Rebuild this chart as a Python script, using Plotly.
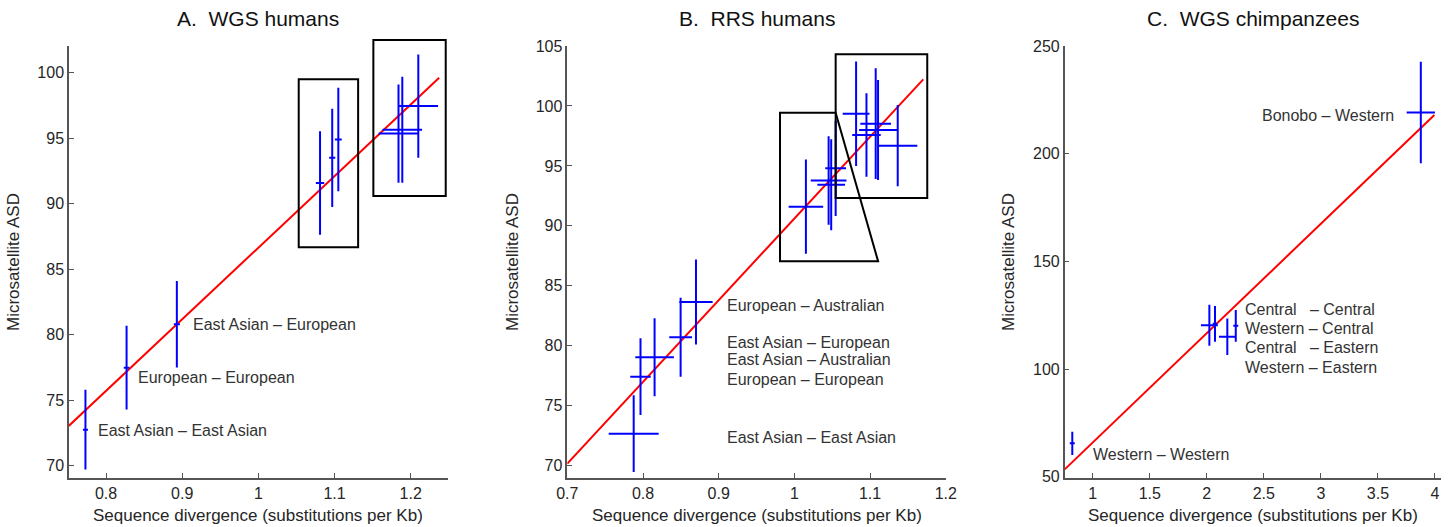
import plotly.graph_objects as go

# ---------------- Panel A: WGS humans ----------------
A_x = [0.773, 0.827, 0.893, 1.081, 1.097, 1.105, 1.184, 1.189, 1.210]
A_y = [72.75, 77.48, 80.80, 91.58, 93.50, 94.90, 95.35, 95.65, 97.45]
A_xerr = [0.0033, 0.0037, 0.004, 0.0055, 0.004, 0.0045, 0.026, 0.026, 0.026]
A_yerr = [3.05, 3.2, 3.3, 3.95, 3.75, 3.95, 3.75, 4.05, 3.95]
A_fit_x = [0.751, 1.2374]
A_fit_y = [73.03, 99.62]
A_labels = ["East Asian – East Asian", "European – European", "East Asian – European"]
A_label_x = [0.787, 0.839, 0.911]
A_label_y = [72.65, 76.75, 80.8]
A_box1_x = [1.053, 1.131, 1.131, 1.053, 1.053]
A_box1_y = [86.67, 86.67, 99.5, 99.5, 86.67]
A_box2_x = [1.151, 1.246, 1.246, 1.151, 1.151]
A_box2_y = [90.59, 90.59, 102.5, 102.5, 90.59]

# ---------------- Panel B: RRS humans ----------------
B_x = [0.7877, 0.7967, 0.8153, 0.8497, 0.8700, 1.0152, 1.0452, 1.0486, 1.0545,
       1.0815, 1.0952, 1.1074, 1.1105, 1.1365]
B_y = [72.67, 77.42, 79.05, 80.71, 83.65, 91.60, 93.78, 93.43, 94.80,
       99.35, 97.58, 98.52, 97.99, 96.69]
B_xerr = [0.033, 0.0135, 0.0255, 0.015, 0.022, 0.0228, 0.0236, 0.0183, 0.0137,
          0.0177, 0.0188, 0.0203, 0.025, 0.0259]
B_yerr = [3.2, 3.2, 3.25, 3.3, 3.55, 3.93, 3.69, 3.79, 3.97,
          4.35, 3.49, 4.62, 4.17, 3.38]
B_fit_x = [0.7, 1.1702]
B_fit_y = [70.17, 102.22]
B_labels = ["European – Australian", "East Asian – European", "East Asian – Australian",
            "European – European", "East Asian – East Asian"]
B_label_x = [0.908, 0.908, 0.908, 0.908, 0.908]
B_label_y = [83.4, 80.29, 78.87, 77.15, 72.37]
B_trap_x = [0.981, 1.0545, 1.1106, 0.981, 0.981]
B_trap_y = [99.44, 99.44, 87.04, 87.04, 99.44]
B_box_x = [1.0545, 1.1755, 1.1755, 1.0545, 1.0545]
B_box_y = [92.32, 92.32, 104.31, 104.31, 92.32]

# ---------------- Panel C: WGS chimpanzees ----------------
C_x = [0.821, 2.0225, 2.072, 2.180, 2.254, 3.876]
C_y = [65.5, 120.3, 121.0, 115.0, 120.05, 219.1]
C_xerr = [0.022, 0.074, 0.02, 0.073, 0.022, 0.124]
C_yerr = [5.4, 9.5, 8.3, 8.5, 7.35, 23.6]
C_fit_x = [0.7545, 3.995]
C_fit_y = [53.4, 218.0]
C_labels = ["Central\u00a0\u00a0\u00a0– Central", "Western – Central",
            "Central\u00a0\u00a0\u00a0– Eastern", "Western – Eastern", "Western – Western"]
C_label_x = [2.32, 2.32, 2.32, 2.32, 0.985]
C_label_y = [127.7, 118.7, 109.9, 100.9, 60.4]
C_bonobo_label = "Bonobo – Western"
C_bonobo_x = 3.66
C_bonobo_y = 217.6

titles = ["A.  WGS humans", "B.  RRS humans", "C.  WGS chimpanzees"]
x_title = "Sequence divergence (substitutions per Kb)"
y_title = "Microsatellite ASD"

FONT = "Liberation Sans, Arial, sans-serif"
BLUE = "#0000ff"
RED = "#ff0000"

W, H = 1454, 527
x_domains = [[69 / W, 447.7 / W], [567.3 / W, 945.8 / W], [1064.7 / W, 1441 / W]]
y_bottom = 1 - 477.7 / H
y_domains = [[y_bottom, 1 - 46 / H], [y_bottom, 1 - 46 / H], [y_bottom, 1 - 46 / H]]
x_ranges = [[0.7514, 1.2486], [0.7, 1.2], [0.7545, 4.053]]
y_ranges = [[69.08, 102.04], [69.0, 105.0], [49.54, 250.0]]

fig = go.Figure()

# boxes drawn as unclipped shapes in axis-domain units (so they may overhang the axes)
shapes = []
def box_shape(i, sx, bx, by):
    xr, yr = x_ranges[i], y_ranges[i]
    fx = [(v - xr[0]) / (xr[1] - xr[0]) for v in bx]
    fy = [(v - yr[0]) / (yr[1] - yr[0]) for v in by]
    path = "M " + " L ".join(f"{a:.5f},{b:.5f}" for a, b in zip(fx, fy)) + " Z"
    shapes.append(dict(type="path", path=path, xref="x" + sx + " domain",
                       yref="y" + sx + " domain", line=dict(color="black", width=2),
                       layer="above"))

panels = [
    ("x", "y", "", A_x, A_y, A_xerr, A_yerr, A_fit_x, A_fit_y, [(A_box1_x, A_box1_y), (A_box2_x, A_box2_y)]),
    ("x2", "y2", "2", B_x, B_y, B_xerr, B_yerr, B_fit_x, B_fit_y, [(B_trap_x, B_trap_y), (B_box_x, B_box_y)]),
    ("x3", "y3", "3", C_x, C_y, C_xerr, C_yerr, C_fit_x, C_fit_y, []),
]

for i, (xa, ya, sx, px, py, pxe, pye, fx, fy, boxes) in enumerate(panels):
    fig.add_trace(go.Scatter(x=fx, y=fy, mode="lines", line=dict(color=RED, width=2),
                             xaxis=xa, yaxis=ya, showlegend=False, hoverinfo="skip"))
    fig.add_trace(go.Scatter(
        x=px, y=py, mode="markers", marker=dict(size=1, color=BLUE, opacity=0),
        error_x=dict(type="data", array=pxe, symmetric=True, color=BLUE, thickness=2, width=0),
        error_y=dict(type="data", array=pye, symmetric=True, color=BLUE, thickness=2, width=0),
        xaxis=xa, yaxis=ya, showlegend=False))
    for bx, by in boxes:
        box_shape(i, sx, bx, by)

annotations = []
def label(xref, yref, x, y, text, anchor="left"):
    annotations.append(dict(x=x, y=y, xref=xref, yref=yref, text=text, showarrow=False,
                            xanchor=anchor, yanchor="middle",
                            font=dict(family=FONT, size=16, color="#333333")))

for t, lx, ly in zip(A_labels, A_label_x, A_label_y):
    label("x", "y", lx, ly, t)
for t, lx, ly in zip(B_labels, B_label_x, B_label_y):
    label("x2", "y2", lx, ly, t)
for t, lx, ly in zip(C_labels, C_label_x, C_label_y):
    label("x3", "y3", lx, ly, t)
label("x3", "y3", C_bonobo_x, C_bonobo_y, C_bonobo_label, anchor="right")

for i, (xd, t) in enumerate(zip(x_domains, titles)):
    xc = (xd[0] + xd[1]) / 2
    annotations.append(dict(x=xc, y=1 - 19 / H, xref="paper", yref="paper", text=t,
                            showarrow=False, xanchor="center", yanchor="middle",
                            font=dict(family=FONT, size=21, color="#111111")))
    annotations.append(dict(x=xc, y=1 - 515 / H, xref="paper", yref="paper", text=x_title,
                            showarrow=False, xanchor="center", yanchor="middle",
                            font=dict(family=FONT, size=17, color="#262626")))
y_title_x = [14, 513, 1009]
for yx in y_title_x:
    annotations.append(dict(x=yx / W, y=1 - 262 / H, xref="paper", yref="paper", text=y_title,
                            showarrow=False, textangle=-90, xanchor="center", yanchor="middle",
                            font=dict(family=FONT, size=17, color="#262626")))

axis_common = dict(showgrid=False, zeroline=False, showline=True, linecolor="#555555",
                   linewidth=1.5, ticks="inside", ticklen=5, tickcolor="#555555",
                   tickfont=dict(family=FONT, size=16, color="#262626"), mirror=False,
                   automargin=False)

x_ticks = [[0.8, 0.9, 1.0, 1.1, 1.2], [0.7, 0.8, 0.9, 1.0, 1.1, 1.2], [1, 1.5, 2, 2.5, 3, 3.5, 4]]
x_ticktext = [["0.8", "0.9", "1", "1.1", "1.2"], ["0.7", "0.8", "0.9", "1", "1.1", "1.2"],
              ["1", "1.5", "2", "2.5", "3", "3.5", "4"]]
y_ticks = [[70, 75, 80, 85, 90, 95, 100], [70, 75, 80, 85, 90, 95, 100, 105], [50, 100, 150, 200, 250]]

layout = dict(width=W, height=H, margin=dict(l=0, r=0, t=0, b=0, autoexpand=False),
              plot_bgcolor="white", paper_bgcolor="white", annotations=annotations,
              shapes=shapes, font=dict(family=FONT), template="none")
for i in range(3):
    sx = "" if i == 0 else str(i + 1)
    layout["xaxis" + sx] = dict(axis_common, domain=x_domains[i], range=x_ranges[i],
                                tickvals=x_ticks[i], ticktext=x_ticktext[i],
                                anchor="y" + sx)
    layout["yaxis" + sx] = dict(axis_common, domain=y_domains[i], range=y_ranges[i],
                                tickvals=y_ticks[i], anchor="x" + sx)

fig.update_layout(**layout)
fig.write_html("out.html")
